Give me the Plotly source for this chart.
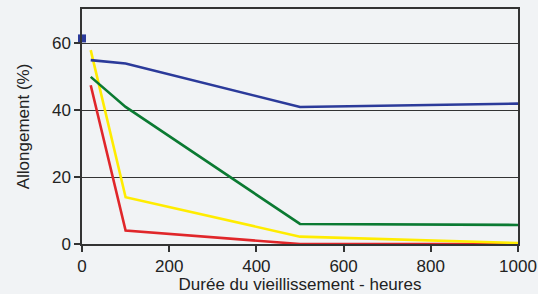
import plotly.graph_objects as go

hours = [20, 100, 500, 1000]
blue = [55, 54, 41, 42]
green = [50, 41, 6, 5.7]
yellow = [58, 14, 2.2, 0.3]
red = [47.5, 4, 0, 0]
marker_x = [0]
marker_y = [61.5]

x_ticks = [0, 200, 400, 600, 800, 1000]
y_ticks = [0, 20, 40, 60]

fig = go.Figure()
for vals, col in [(red, "#e0262a"), (yellow, "#ffec00"), (green, "#0b7a32"), (blue, "#2b3a9a")]:
    fig.add_trace(go.Scatter(x=hours, y=vals, mode="lines",
                             line=dict(color=col, width=2.6), cliponaxis=False,
                             showlegend=False, hoverinfo="skip"))
fig.add_trace(go.Scatter(x=marker_x, y=marker_y, mode="markers",
                         marker=dict(symbol="square", color="#2b3a9a", size=8),
                         cliponaxis=False, showlegend=False))

fig.update_layout(
    width=538, height=294,
    margin=dict(l=82, r=20, t=9, b=50, autoexpand=False),
    paper_bgcolor="#f1f3f5", plot_bgcolor="rgba(0,0,0,0)",
    font=dict(family="Liberation Sans, Arial, sans-serif", color="#222"),
)
fig.update_xaxes(range=[0, 1000], tickvals=x_ticks, showgrid=False, zeroline=False,
                 automargin=False,
                 showline=True, linecolor="#333", linewidth=1.5, mirror=True,
                 ticks="outside", ticklen=6, tickcolor="#333", tickwidth=1.5,
                 tickfont=dict(size=17),
                 title=dict(text="Durée du vieillissement - heures", font=dict(size=17), standoff=0))
fig.update_yaxes(range=[0, 70.3], tickvals=y_ticks, showgrid=True, gridcolor="#333",
                 gridwidth=1, zeroline=False, automargin=False,
                 showline=True, linecolor="#333", linewidth=1.5, mirror=True,
                 ticks="outside", ticklen=6, tickcolor="#333", tickwidth=1.5,
                 tickfont=dict(size=17),
                 title=dict(text="Allongement (%)", font=dict(size=17), standoff=18))

fig.write_html("out.html", config={"displayModeBar": False},
               post_script="document.body.style.margin='0';document.body.style.overflow='hidden';")
